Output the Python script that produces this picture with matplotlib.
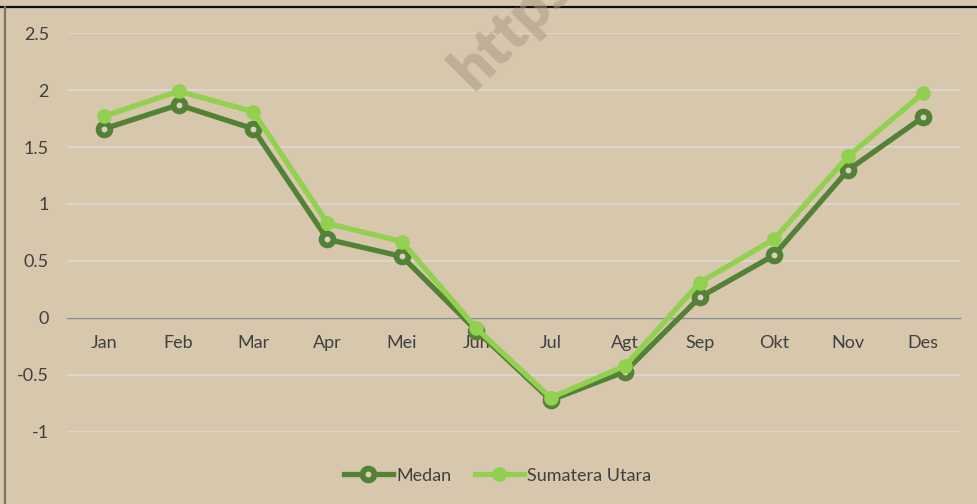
import matplotlib.pyplot as plt
from matplotlib.lines import Line2D

months = ['Jan', 'Feb', 'Mar', 'Apr', 'Mei', 'Jun', 'Jul', 'Agt', 'Sep', 'Okt', 'Nov', 'Des']
medan = [1.66, 1.87, 1.66, 0.69, 0.54, -0.11, -0.72, -0.47, 0.18, 0.55, 1.30, 1.76]
sumut = [1.77, 1.99, 1.81, 0.83, 0.67, -0.09, -0.70, -0.42, 0.31, 0.69, 1.42, 1.97]
yticks = [-1, -0.5, 0, 0.5, 1, 1.5, 2, 2.5]
ytick_labels = ['-1', '-0.5', '0', '0.5', '1', '1.5', '2', '2.5']

bg = '#D6C7AD'
dark = '#538135'
light = '#92D050'
txt = '#404040'

plt.rcParams['font.family'] = ['Lato', 'DejaVu Sans']

fig = plt.figure(figsize=(9.77, 5.04), dpi=100, facecolor=bg)
ax = fig.add_axes([0.0686, 0.1429, 0.914, 0.7916], facecolor=bg)

x = list(range(len(months)))
ax.plot(x, medan, color=dark, lw=3.8, marker='o', ms=8.5, mfc='#D8D0C0',
        mec=dark, mew=4.2, label='Medan', zorder=3, solid_joinstyle='round')
ax.plot(x, sumut, color=light, lw=3.8, marker='o', ms=9.5, mfc=light,
        mec=light, label='Sumatera Utara', zorder=4, solid_joinstyle='round')

ax.set_xlim(-0.5, 11.5)
ax.set_ylim(-1, 2.5)
ax.set_yticks(yticks)
ax.set_yticklabels(ytick_labels)
ax.set_xticks(x)
ax.set_xticklabels(months)

ax.grid(axis='y', color='#DCD8D0', lw=1.3, zorder=0)
for s in ['top', 'right', 'left']:
    ax.spines[s].set_visible(False)
ax.spines['bottom'].set_position(('data', 0))
ax.spines['bottom'].set_color('#8C8C8C')
ax.spines['bottom'].set_linewidth(1.0)
ax.tick_params(axis='both', length=0, labelsize=13, labelcolor=txt)
ax.tick_params(axis='x', pad=12)
ax.tick_params(axis='y', pad=13)

fig.legend(loc='center', bbox_to_anchor=(0.509, 0.056), ncol=2, frameon=False,
           fontsize=13, handlelength=2.75, handletextpad=0.15, columnspacing=1.3,
           labelcolor=txt)

# watermark (cut off by the top edge, as in the source)
fig.text(474 / 977, 1 - 92 / 504, 'https://', rotation=45, rotation_mode='anchor',
         ha='left', va='baseline', fontsize=44, fontweight='heavy',
         color='#A89880', alpha=0.5, zorder=5)

# chart border fragments
fig.add_artist(Line2D([0, 1], [1 - 7 / 504] * 2, color='#111111', lw=1.6))
fig.add_artist(Line2D([5 / 977] * 2, [0, 1 - 7 / 504], color='#7A7468', lw=1.6))

fig.savefig('out.png', dpi=100, facecolor=bg)
